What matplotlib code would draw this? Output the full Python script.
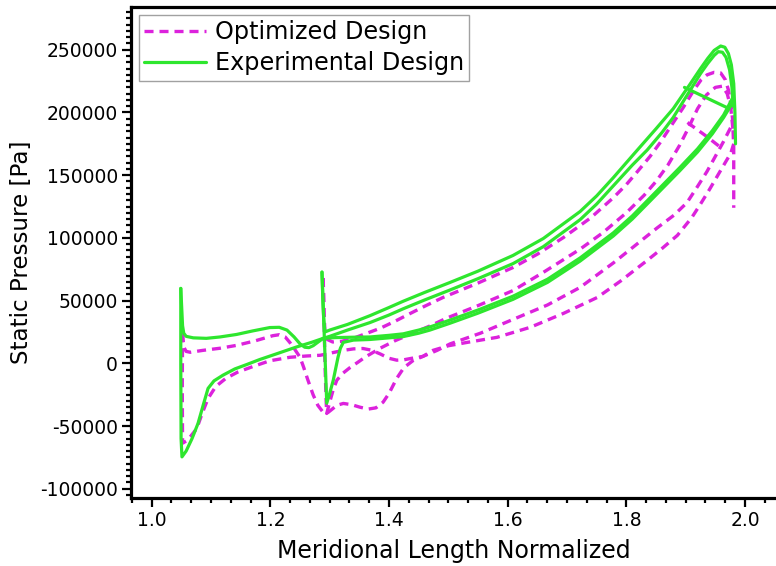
import matplotlib
matplotlib.use("Agg")
import matplotlib.pyplot as plt
from matplotlib.ticker import AutoMinorLocator, FormatStrFormatter

# ---------------- data: static pressure along normalized meridional length ----------------
# Optimized design (dashed magenta)
opt_main_ps_x = [1.052, 1.054, 1.058, 1.065, 1.086, 1.115, 1.143, 1.175, 1.204, 1.215, 1.225, 1.233,
                 1.242, 1.250, 1.256, 1.263, 1.272, 1.280, 1.288, 1.295, 1.303, 1.312, 1.323, 1.337,
                 1.351, 1.365, 1.378, 1.390, 1.400, 1.413, 1.425, 1.440, 1.457, 1.474, 1.500, 1.532,
                 1.582, 1.638, 1.694, 1.751, 1.790, 1.835, 1.860, 1.886, 1.910, 1.925, 1.940, 1.953,
                 1.966, 1.976, 1.981]
opt_main_ps_y = [24000, 13000, 9500, 8800, 10300, 12000, 14300, 18000, 22000, 22800, 21000, 16500,
                 10500, 4800, -3000, -13000, -25000, -33500, -38500, -40000, -37000, -33500, -32000, -33000,
                 -35000, -36500, -35500, -31000, -24000, -12000, -3500, 2000, 5500, 10300, 14000, 16700,
                 20700, 28700, 39800, 52500, 65500, 82000, 91500, 102000, 116000, 127000, 138500, 149000,
                 159500, 167500, 175000]

opt_main_ss_x = [1.052, 1.0515, 1.052, 1.058, 1.066, 1.076, 1.085, 1.095, 1.108, 1.125, 1.145, 1.171,
                 1.199, 1.233, 1.260, 1.284, 1.305, 1.323, 1.340, 1.356, 1.370, 1.385, 1.400, 1.413,
                 1.425, 1.436, 1.457, 1.481, 1.503, 1.554, 1.609, 1.667, 1.722, 1.778, 1.815, 1.852,
                 1.880, 1.902, 1.920, 1.936, 1.950, 1.964, 1.978]
opt_main_ss_y = [24000, -20000, -63700, -62000, -58000, -52000, -40000, -28000, -18500, -12000, -7000, -2500,
                 2000, 4800, 5800, 6400, 8500, 10300, 11500, 11800, 10500, 7500, 4000, 2500,
                 2800, 3800, 5500, 10300, 15500, 24000, 35000, 46500, 60500, 80000, 94000, 108000,
                 118000, 128000, 141000, 153000, 165000, 177000, 190000]

opt_split_ps_x = [1.289, 1.2905, 1.292, 1.296, 1.305, 1.320, 1.340, 1.360, 1.385, 1.410, 1.436, 1.460,
                  1.491, 1.550, 1.609, 1.650, 1.694, 1.740, 1.778, 1.800, 1.818, 1.840, 1.857, 1.875,
                  1.896, 1.914, 1.926, 1.936, 1.948, 1.959, 1.967, 1.972, 1.976, 1.979, 1.981, 1.981]
opt_split_ps_y = [68000, 40000, 25000, 19000, 17000, 17500, 20000, 23500, 27900, 33500, 39800, 45500,
                  52500, 64000, 76400, 87000, 100300, 116000, 132000, 142500, 152500, 165000, 176000, 189000,
                  204000, 218000, 226000, 230000, 232000, 231500, 226000, 218000, 207000, 195000, 172000, 124000]

opt_split_ss_x = [1.289, 1.2905, 1.292, 1.294, 1.295, 1.300, 1.306, 1.312, 1.322, 1.334, 1.348, 1.360,
                  1.385, 1.410, 1.440, 1.470, 1.497, 1.550, 1.609, 1.660, 1.722, 1.760, 1.800, 1.830,
                  1.850, 1.870, 1.890, 1.905, 1.920, 1.935, 1.950, 1.962, 1.970, 1.976, 1.980]
opt_split_ss_y = [68000, 35000, 0, -30000, -40000, -31000, -21000, -13500, -8000, -3500, 1000, 5000,
                  12000, 18000, 24000, 30000, 36000, 46000, 58000, 72500, 91000, 104000, 120000, 134000,
                  145000, 158000, 174000, 188000, 203000, 214000, 220000, 221000, 215000, 204000, 185000]

opt_te_x = [1.903, 1.935, 1.962]
opt_te_y = [192000, 181000, 171000]

# Experimental design (solid green)
exp_main_ps_x = [1.049, 1.0505, 1.052, 1.054, 1.058, 1.070, 1.092, 1.115, 1.143, 1.170, 1.199, 1.215,
                 1.228, 1.240, 1.250, 1.258, 1.265, 1.272, 1.280, 1.289, 1.310, 1.340, 1.368, 1.400,
                 1.424, 1.450, 1.469, 1.503, 1.550, 1.609, 1.667, 1.722, 1.778, 1.810, 1.835, 1.862,
                 1.890, 1.920, 1.945, 1.964, 1.979]
exp_main_ps_y = [59700, 45000, 30000, 24000, 21500, 20300, 19900, 21000, 23000, 25800, 28500, 28700,
                 26500, 21000, 15500, 12800, 12500, 14000, 16800, 19900, 20500, 20800, 21000, 22300,
                 23500, 26500, 29000, 34500, 42500, 53500, 67000, 84000, 104000, 117500, 129500, 142500,
                 156000, 171000, 185500, 198000, 211500]

exp_main_ss_x = [1.049, 1.049, 1.0495, 1.051, 1.058, 1.068, 1.078, 1.087, 1.095, 1.105, 1.120, 1.140,
                 1.160, 1.182, 1.210, 1.244, 1.270, 1.289, 1.300, 1.330, 1.368, 1.400, 1.424, 1.460,
                 1.503, 1.550, 1.609, 1.660, 1.722, 1.750, 1.778, 1.810, 1.835, 1.860, 1.879, 1.908,
                 1.925, 1.937, 1.948, 1.955, 1.962, 1.968, 1.974, 1.978, 1.980]
exp_main_ss_y = [59700, 0, -60000, -74600, -70000, -60000, -48000, -33000, -20000, -14000, -9500, -4500,
                 -1000, 3000, 7500, 13000, 16800, 19900, 21500, 26500, 32500, 38500, 43500, 50500,
                 58500, 67500, 79500, 93000, 114500, 127000, 141500, 158000, 170000, 184000, 196000, 218000,
                 231000, 239000, 245500, 248500, 248000, 244000, 234000, 220000, 205000]

exp_split_ps_x = [1.287, 1.2885, 1.290, 1.292, 1.300, 1.330, 1.368, 1.400, 1.424, 1.460, 1.503, 1.550,
                  1.609, 1.660, 1.722, 1.750, 1.778, 1.812, 1.850, 1.879, 1.908, 1.925, 1.937, 1.948,
                  1.959, 1.966, 1.972, 1.977, 1.981, 1.983, 1.984]
exp_split_ps_y = [72700, 50000, 35000, 25000, 26500, 31000, 38000, 44500, 49500, 56500, 64500, 73500,
                  86000, 99500, 121000, 133500, 148000, 166500, 187000, 203000, 223000, 235000, 243000, 249500,
                  253000, 252000, 247000, 238000, 223000, 200000, 175000]

exp_split_ss_x = [1.287, 1.291, 1.295, 1.300, 1.306, 1.314, 1.318, 1.323, 1.340, 1.368, 1.400, 1.424,
                  1.450, 1.469, 1.503, 1.550, 1.609, 1.667, 1.722, 1.778, 1.810, 1.835, 1.862, 1.890,
                  1.920, 1.945, 1.964, 1.978]
exp_split_ss_y = [72700, 20000, -31800, -24000, -13500, 4800, 12000, 16700, 18500, 19000, 20300, 21300,
                  24000, 26500, 32000, 40000, 51000, 64500, 81500, 101500, 115000, 127000, 140000, 153500,
                  168500, 183000, 196000, 207000]

exp_te_x = [1.898, 1.970]
exp_te_y = [220000, 203800]

x_ticks = [1.0, 1.2, 1.4, 1.6, 1.8, 2.0]
y_ticks = [-100000, -50000, 0, 50000, 100000, 150000, 200000, 250000]

# ---------------- styling ----------------
plt.rcParams["font.family"] = ["DejaVu Sans"]
plt.rcParams["axes.unicode_minus"] = False
plt.rcParams["lines.scale_dashes"] = False

GREEN = "#2ee62e"
MAGENTA = "#dc22dc"

W, H = 776, 566
fig = plt.figure(figsize=(W / 100, H / 100), dpi=100)
# plot area runs off the right edge of the canvas, so no right border is shown
ax = fig.add_axes([131 / W, 68 / H, (W - 131) / W, 491 / H])

opt_curves = [(opt_main_ps_x, opt_main_ps_y), (opt_main_ss_x, opt_main_ss_y),
              (opt_split_ps_x, opt_split_ps_y), (opt_split_ss_x, opt_split_ss_y),
              (opt_te_x, opt_te_y)]
exp_curves = [(exp_main_ps_x, exp_main_ps_y), (exp_main_ss_x, exp_main_ss_y),
              (exp_split_ps_x, exp_split_ps_y), (exp_split_ss_x, exp_split_ss_y),
              (exp_te_x, exp_te_y)]

for i, (xs, ys) in enumerate(opt_curves):
    ax.plot(xs, ys, color=MAGENTA, lw=2.4, dashes=(6.5, 4.3), solid_joinstyle="round",
            dash_joinstyle="round", label="Optimized Design" if i == 0 else None, zorder=2)
for i, (xs, ys) in enumerate(exp_curves):
    ax.plot(xs, ys, color=GREEN, lw=2.3, solid_joinstyle="round", solid_capstyle="round",
            label="Experimental Design" if i == 0 else None, zorder=3)

ax.set_xlim(0.9651, 0.9651 + (W - 131) / 593.3)
ax.set_ylim(-107400, 284100)

ax.set_xticks(x_ticks)
ax.xaxis.set_minor_locator(AutoMinorLocator(6))
ax.xaxis.set_major_formatter(FormatStrFormatter("%.1f"))
ax.set_yticks(y_ticks)
ax.yaxis.set_minor_locator(AutoMinorLocator(10))

for side in ("left", "bottom", "top"):
    ax.spines[side].set_linewidth(2.3)
ax.spines["right"].set_visible(False)
ax.tick_params(which="major", direction="out", length=6.5, width=1.6, labelsize=13.5,
               top=False, right=False, pad=3)
ax.tick_params(which="minor", direction="out", length=3.6, width=1.6, top=False, right=False)

ax.set_xlabel("Meridional Length Normalized", fontsize=17, labelpad=6)
ax.set_ylabel("Static Pressure [Pa]", fontsize=16.6, labelpad=5)

leg = ax.legend(loc="upper left", fontsize=17.2, frameon=True, fancybox=False,
                handlelength=2.6, handletextpad=0.35, labelspacing=0.3,
                borderpad=0.22, borderaxespad=0.33)
leg.get_frame().set_edgecolor("#8a8a8a")
leg.get_frame().set_linewidth(1.0)

fig.savefig("out.png", dpi=100)
